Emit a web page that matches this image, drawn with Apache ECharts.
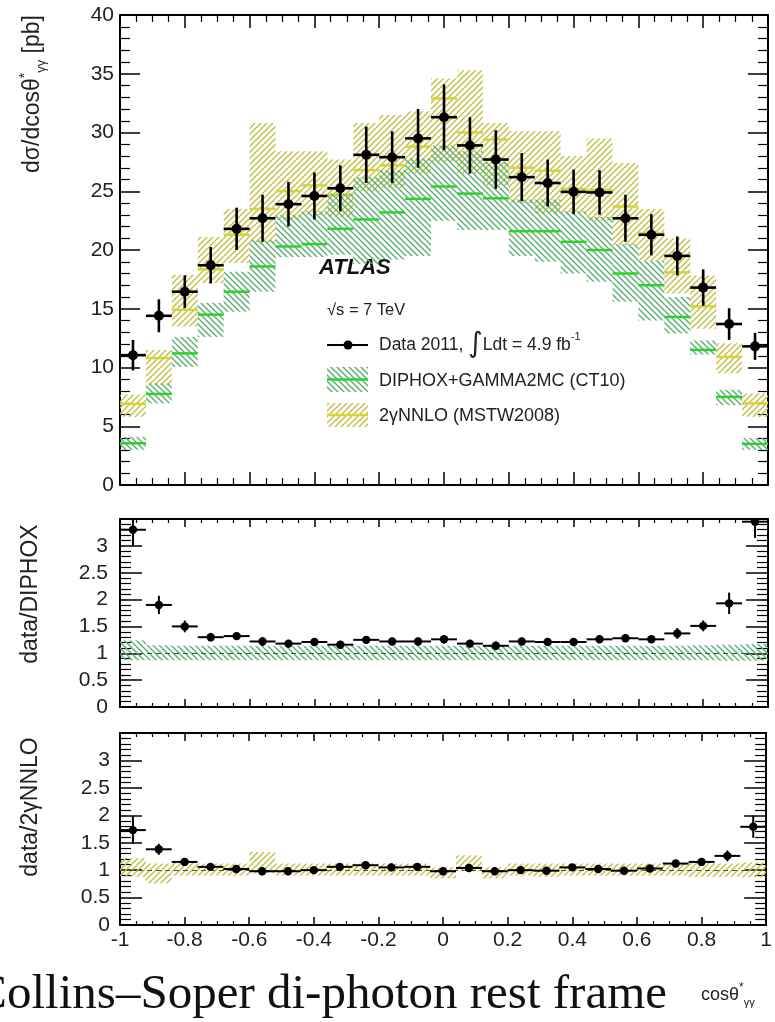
<!DOCTYPE html>
<html><head><meta charset="utf-8">
<script src="https://cdn.jsdelivr.net/npm/echarts@6/dist/echarts.min.js"></script>
<style>html,body{margin:0;padding:0;background:#fff}#c{width:775px;height:1022px}</style>
</head><body><div id="c"></div>
<script>
// ---------- data ----------
const binCenters = [-0.96,-0.88,-0.80,-0.72,-0.64,-0.56,-0.48,-0.40,-0.32,-0.24,-0.16,-0.08,0.00,0.08,0.16,0.24,0.32,0.40,0.48,0.56,0.64,0.72,0.80,0.88,0.96];
const binHalfWidth = 0.04;

const dataXsec = [11.05,14.4,16.45,18.7,21.8,22.7,23.9,24.6,25.25,28.1,27.9,29.5,31.3,28.9,27.7,26.2,25.7,24.95,24.9,22.7,21.3,19.5,16.8,13.7,11.8];
const dataErr  = [1.3,1.4,1.4,1.55,1.8,2.0,1.9,2.0,1.95,2.4,2.2,2.5,2.8,2.4,2.5,2.05,2.0,1.9,1.9,2.0,1.75,1.65,1.55,1.35,1.15];

const diphoxCentral = [3.55,7.75,11.2,14.5,16.45,18.6,20.3,20.5,21.8,22.6,23.2,24.35,25.4,24.8,24.4,21.6,21.6,20.7,20.0,18.0,17.0,14.3,11.5,7.5,3.5];
const diphoxLow     = [3.0,6.95,10.05,12.6,14.75,16.45,19.4,19.4,19.6,18.8,19.2,19.5,22.5,21.7,21.7,19.5,19.0,18.0,17.3,15.6,14.0,12.9,11.1,6.8,3.0];
const diphoxHigh    = [4.1,8.65,12.6,15.5,18.15,20.85,23.0,23.3,24.8,26.2,26.8,27.8,28.9,28.4,27.5,24.3,24.3,23.3,22.8,20.5,19.1,16.0,12.3,8.1,4.0];

const nnloCentral = [6.9,10.8,14.9,18.35,21.3,23.5,25.0,25.5,24.7,26.8,27.2,28.8,32.9,30.0,29.4,27.0,26.75,25.2,25.1,23.7,21.4,18.1,15.2,10.9,6.95];
const nnloLow     = [5.8,8.5,13.5,17.2,18.9,20.6,22.6,23.0,22.8,25.0,25.3,26.5,27.5,26.5,25.5,24.0,23.1,23.1,22.5,20.4,19.1,16.3,13.3,9.5,5.8];
const nnloHigh    = [7.7,11.5,17.9,21.1,23.5,30.8,28.4,28.4,27.7,30.8,31.5,31.8,34.6,35.3,30.8,30.1,30.1,28.0,29.5,27.4,23.5,21.0,17.8,12.06,7.8];

const ratioDiphox    = [3.3,1.9,1.5,1.3,1.32,1.22,1.18,1.21,1.16,1.25,1.22,1.22,1.26,1.18,1.14,1.22,1.21,1.21,1.26,1.28,1.26,1.37,1.51,1.93,3.45];
const ratioDiphoxErr = [0.3,0.17,0.11,0.08,0.07,0.08,0.07,0.07,0.07,0.07,0.07,0.07,0.08,0.07,0.08,0.07,0.07,0.07,0.07,0.07,0.07,0.1,0.1,0.2,0.3];
const diphoxRatioLow  = [0.87,0.87,0.87,0.87,0.87,0.87,0.87,0.87,0.87,0.87,0.87,0.87,0.87,0.87,0.87,0.87,0.87,0.87,0.87,0.87,0.87,0.87,0.87,0.86,0.86];
const diphoxRatioHigh = [1.24,1.15,1.14,1.14,1.14,1.14,1.14,1.14,1.14,1.14,1.14,1.14,1.14,1.14,1.14,1.14,1.14,1.14,1.14,1.14,1.14,1.14,1.15,1.16,1.17];

const ratioNnlo    = [1.73,1.38,1.15,1.06,1.02,0.98,0.98,1.0,1.06,1.09,1.05,1.06,0.98,1.04,0.98,1.0,0.99,1.05,1.02,0.99,1.03,1.12,1.15,1.26,1.79];
const ratioNnloErr = [0.25,0.1,0.07,0.06,0.06,0.06,0.06,0.06,0.06,0.07,0.07,0.07,0.07,0.07,0.07,0.06,0.06,0.06,0.06,0.06,0.06,0.06,0.07,0.1,0.2];
const nnloRatioLow  = [0.88,0.76,0.9,0.9,0.9,0.94,0.9,0.9,0.9,0.9,0.9,0.9,0.85,0.98,0.85,0.9,0.88,0.9,0.9,0.9,0.9,0.9,0.88,0.88,0.87];
const nnloRatioHigh = [1.22,1.12,1.15,1.12,1.12,1.33,1.12,1.12,1.12,1.12,1.12,1.12,1.05,1.27,1.05,1.12,1.12,1.12,1.12,1.12,1.12,1.12,1.15,1.12,1.14];

// ---------- styles ----------
const SANS = "'Liberation Sans', Arial, Helvetica, sans-serif";
function makeHatch(color, forward, lw) {
  const s = 6, cv = document.createElement('canvas');
  cv.width = s; cv.height = s;
  const ctx = cv.getContext('2d');
  ctx.strokeStyle = color; ctx.lineWidth = lw;
  ctx.beginPath();
  if (forward) {
    ctx.moveTo(0, s); ctx.lineTo(s, 0);
    ctx.moveTo(-s/2, s/2); ctx.lineTo(s/2, -s/2);
    ctx.moveTo(s/2, 1.5*s); ctx.lineTo(1.5*s, s/2);
  } else {
    ctx.moveTo(0, 0); ctx.lineTo(s, s);
    ctx.moveTo(-s/2, s/2); ctx.lineTo(s/2, 1.5*s);
    ctx.moveTo(s/2, -s/2); ctx.lineTo(1.5*s, s/2);
  }
  ctx.stroke();
  return cv;
}
const greenPat = {image: makeHatch('#5aae74', false, 1.4), repeat: 'repeat'};
const yellowPat = {image: makeHatch('#c0bf45', true, 1.4), repeat: 'repeat'};
const greenLine = '#2fcf2f';
const yellowLine = '#d6d23a';

const grids = [
  {left: 120, top: 15, width: 648, height: 470},
  {left: 120, top: 519, width: 648, height: 188},
  {left: 120, top: 733, width: 648, height: 192}
];

function xAx(gi, pos, labels, maj, min) {
  return {type:'value', gridIndex: gi, position: pos, min: -1, max: 1, interval: 0.2,
    axisLine: {show: true, onZero: false, lineStyle: {color: '#000', width: 2}},
    axisTick: {show: true, inside: true, length: maj, lineStyle: {color: '#000', width: 1.5}},
    minorTick: {show: true, splitNumber: 4, length: min, lineStyle: {color: '#000', width: 1.2}},
    splitLine: {show: false},
    axisLabel: {show: labels, fontSize: 21, color: '#222', fontFamily: SANS, margin: 5}
  };
}
function yAx(gi, pos, max, interval, labels, maj, min, margin, showMax) {
  return {type:'value', gridIndex: gi, position: pos, min: 0, max: max, interval: interval,
    axisLine: {show: true, onZero: false, lineStyle: {color: '#000', width: 2}},
    axisTick: {show: true, inside: true, length: maj, lineStyle: {color: '#000', width: 1.5}},
    minorTick: {show: true, splitNumber: 5, length: min, lineStyle: {color: '#000', width: 1.2}},
    splitLine: {show: false},
    axisLabel: {show: labels, fontSize: 21, color: '#222', fontFamily: SANS, margin: margin, showMaxLabel: showMax}
  };
}

const hw = binHalfWidth;
function bandSeries(ai, low, high, central, pattern, lineColor, refLine) {
  const s = {
    type: 'custom', xAxisIndex: ai, yAxisIndex: ai, clip: true, silent: true, z: 2,
    data: binCenters.map((x, i) => [x, low[i], high[i], central ? central[i] : 0]),
    renderItem(params, api) {
      const x = api.value(0);
      const p1 = api.coord([x - hw, api.value(2)]);
      const p2 = api.coord([x + hw, api.value(1)]);
      const ch = [{type: 'rect', shape: {x: p1[0], y: p1[1], width: p2[0] - p1[0], height: p2[1] - p1[1]}, style: {fill: pattern}}];
      if (central) {
        const a = api.coord([x - hw, api.value(3)]), b = api.coord([x + hw, api.value(3)]);
        ch.push({type: 'line', shape: {x1: a[0], y1: a[1], x2: b[0], y2: b[1]}, style: {stroke: lineColor, lineWidth: 2.5}});
      }
      return {type: 'group', children: ch};
    }
  };
  if (refLine) {
    s.markLine = {silent: true, symbol: 'none', label: {show: false},
      lineStyle: {color: refLine, type: [5, 4], width: 1.2}, data: [{yAxis: 1}]};
  }
  return s;
}
function pointSeries(ai, vals, errs, r, lw) {
  return {
    type: 'custom', xAxisIndex: ai, yAxisIndex: ai, clip: true, silent: true, z: 5,
    data: binCenters.map((x, i) => [x, vals[i], errs[i]]),
    renderItem(params, api) {
      const x = api.value(0), y = api.value(1), e = api.value(2);
      const t = api.coord([x, y + e]), b = api.coord([x, y - e]);
      const l = api.coord([x - hw, y]), rr = api.coord([x + hw, y]), c = api.coord([x, y]);
      return {type: 'group', children: [
        {type: 'line', shape: {x1: t[0], y1: t[1], x2: b[0], y2: b[1]}, style: {stroke: '#000', lineWidth: lw}},
        {type: 'line', shape: {x1: l[0], y1: l[1], x2: rr[0], y2: rr[1]}, style: {stroke: '#000', lineWidth: lw}},
        {type: 'circle', shape: {cx: c[0], cy: c[1], r: r}, style: {fill: '#000'}}
      ]};
    }
  };
}

const chart = echarts.init(document.getElementById('c'), null, {renderer: 'canvas'});
chart.setOption({
  animation: false,
  backgroundColor: '#fff',
  grid: grids,
  xAxis: [
    xAx(0, 'bottom', false, 13, 7), xAx(1, 'bottom', false, 8, 4), xAx(2, 'bottom', true, 8, 4),
    xAx(0, 'top', false, 13, 7), xAx(1, 'top', false, 8, 4), xAx(2, 'top', false, 8, 4)
  ],
  yAxis: [
    yAx(0, 'left', 40, 5, true, 20, 10, 6, true),
    yAx(1, 'left', 3.5, 0.5, true, 22, 11, 12, false),
    yAx(2, 'left', 3.5, 0.5, true, 22, 11, 10, false),
    yAx(0, 'right', 40, 5, false, 20, 10, 6, true),
    yAx(1, 'right', 3.5, 0.5, false, 22, 11, 12, false),
    yAx(2, 'right', 3.5, 0.5, false, 22, 11, 10, false)
  ],
  series: [
    bandSeries(0, nnloLow, nnloHigh, nnloCentral, yellowPat, yellowLine),
    bandSeries(0, diphoxLow, diphoxHigh, diphoxCentral, greenPat, greenLine),
    pointSeries(0, dataXsec, dataErr, 5, 2.6),
    bandSeries(1, diphoxRatioLow, diphoxRatioHigh, null, greenPat, null, '#2f5f3a'),
    pointSeries(1, ratioDiphox, ratioDiphoxErr, 4.2, 2),
    bandSeries(2, nnloRatioLow, nnloRatioHigh, null, yellowPat, null, '#555530'),
    pointSeries(2, ratioNnlo, ratioNnloErr, 4.2, 2)
  ],
  graphic: [
    {type: 'text', x: 33, y: 94, rotation: Math.PI / 2, style: {
      text: '{a|dσ/dcosθ}{sup|*}{sub|γγ}{a| [pb]}', align: 'center', verticalAlign: 'middle',
      rich: {
        a: {fontSize: 23, fontFamily: SANS, fill: '#222', lineHeight: 30, verticalAlign: 'middle'},
        sup: {fontSize: 14, fontFamily: SANS, fill: '#222', lineHeight: 30, verticalAlign: 'top'},
        sub: {fontSize: 13, fontFamily: SANS, fill: '#222', lineHeight: 30, verticalAlign: 'bottom'}
      }}},
    {type: 'text', x: 31, y: 594, rotation: Math.PI / 2, style: {
      text: 'data/DIPHOX', fontSize: 23, fontFamily: SANS, fill: '#222', align: 'center', verticalAlign: 'middle'}},
    {type: 'text', x: 31, y: 807, rotation: Math.PI / 2, style: {
      text: 'data/2γNNLO', fontSize: 23, fontFamily: SANS, fill: '#222', align: 'center', verticalAlign: 'middle'}},
    // legend
    {type: 'text', x: 319, y: 268, style: {text: 'ATLAS', fontSize: 22, fontWeight: 'bold', fontStyle: 'italic',
      fontFamily: SANS, fill: '#111', align: 'left', verticalAlign: 'middle'}},
    {type: 'text', x: 327, y: 310, style: {text: '√s = 7 TeV', fontSize: 16.5, fontFamily: SANS, fill: '#222',
      align: 'left', verticalAlign: 'middle'}},
    {type: 'line', shape: {x1: 327, y1: 345, x2: 368, y2: 345}, style: {stroke: '#000', lineWidth: 2}},
    {type: 'circle', shape: {cx: 348, cy: 345, r: 4.5}, style: {fill: '#000'}},
    {type: 'text', x: 379, y: 345, style: {
      text: '{a|Data 2011, }{i|∫}{a|Ldt = 4.9 fb}{s|-1}', align: 'left', verticalAlign: 'middle',
      rich: {
        a: {fontSize: 17.5, fontFamily: SANS, fill: '#222', lineHeight: 28, verticalAlign: 'middle'},
        i: {fontSize: 28, fontFamily: "'DejaVu Sans', sans-serif", fill: '#222', lineHeight: 28, verticalAlign: 'middle'},
        s: {fontSize: 11, fontFamily: SANS, fill: '#222', lineHeight: 28, verticalAlign: 'top'}
      }}},
    {type: 'rect', shape: {x: 327, y: 367, width: 41, height: 25}, style: {fill: greenPat}},
    {type: 'line', shape: {x1: 327, y1: 379.5, x2: 368, y2: 379.5}, style: {stroke: greenLine, lineWidth: 2.5}},
    {type: 'text', x: 379, y: 381, style: {text: 'DIPHOX+GAMMA2MC (CT10)', fontSize: 18, fontFamily: SANS, fill: '#222',
      align: 'left', verticalAlign: 'middle'}},
    {type: 'rect', shape: {x: 327, y: 403, width: 41, height: 24}, style: {fill: yellowPat}},
    {type: 'line', shape: {x1: 327, y1: 415, x2: 368, y2: 415}, style: {stroke: yellowLine, lineWidth: 2.5}},
    {type: 'text', x: 379, y: 416, style: {text: '2γNNLO (MSTW2008)', fontSize: 18, fontFamily: SANS, fill: '#222',
      align: 'left', verticalAlign: 'middle'}},
    // bottom captions
    {type: 'text', x: 667, y: 995, style: {text: 'Collins–Soper di-photon rest frame', fontSize: 49,
      fontFamily: "'Liberation Serif', 'Times New Roman', serif", fill: '#111', align: 'right', verticalAlign: 'middle'}},
    {type: 'text', x: 701, y: 995, style: {
      text: '{a|cosθ}{sup|*}{sub|γγ}', align: 'left', verticalAlign: 'middle',
      rich: {
        a: {fontSize: 18, fontFamily: SANS, fill: '#222', lineHeight: 26, verticalAlign: 'middle'},
        sup: {fontSize: 12, fontFamily: SANS, fill: '#222', lineHeight: 26, verticalAlign: 'top'},
        sub: {fontSize: 11, fontFamily: SANS, fill: '#222', lineHeight: 26, verticalAlign: 'bottom'}
      }}}
  ]
});
</script>
</body></html>
